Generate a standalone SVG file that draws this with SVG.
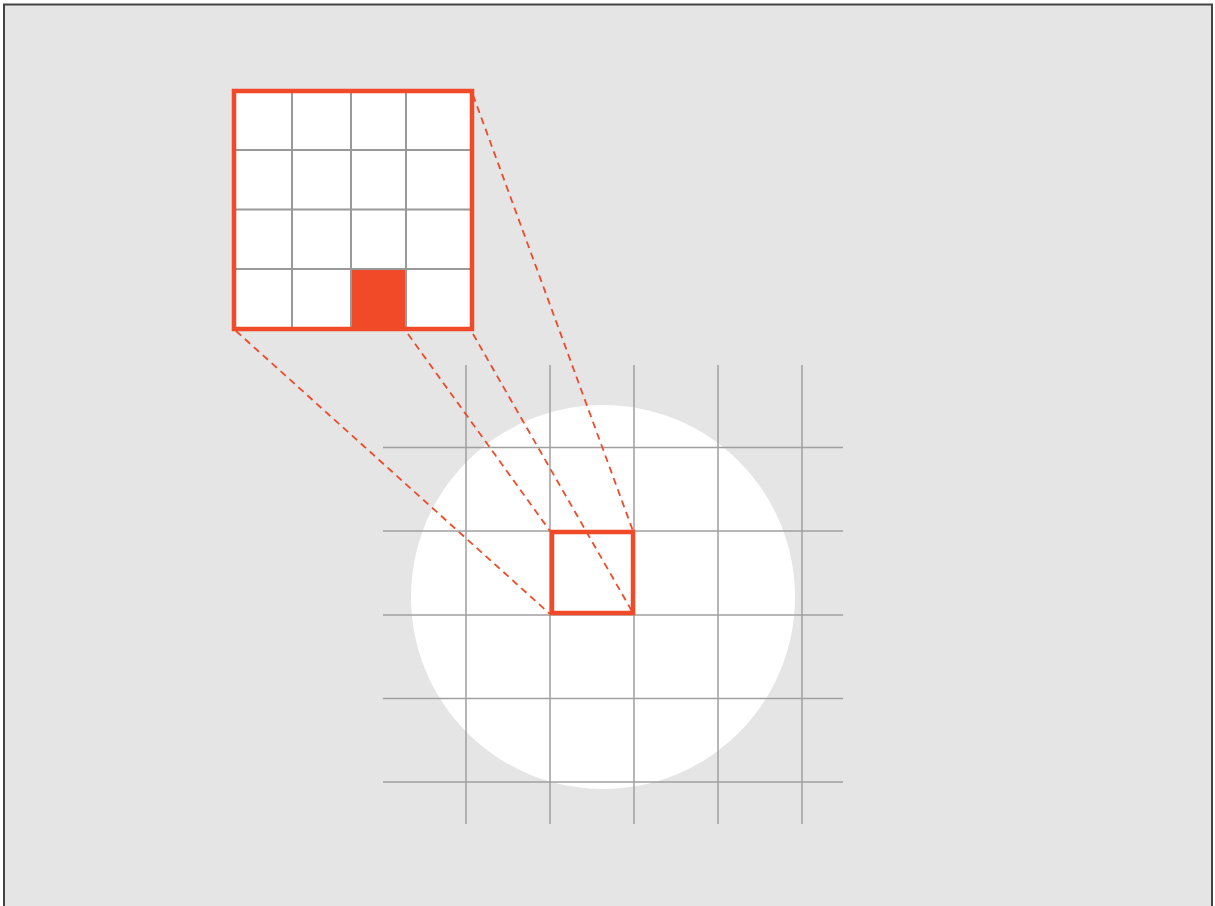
<svg xmlns="http://www.w3.org/2000/svg" width="1215" height="906" viewBox="0 0 1215 906">
<style>
.grid{stroke:#a0a0a0;stroke-width:1.5;fill:none}
.cell{stroke:#999;stroke-width:2;fill:none}
.red{stroke:#f04a29;stroke-width:4.5;fill:none}
.dash{stroke:#f04a29;stroke-width:1.8;stroke-dasharray:7 5;fill:none}
</style>
<rect x="0" y="0" width="1215" height="906" fill="#fff"/>
<rect x="4" y="4.5" width="1208" height="910" fill="#e5e5e5" stroke="#444" stroke-width="2"/>
<g id="circle"><circle cx="603" cy="597" r="192" fill="#fff"/></g>
<g id="grid">
<path class="grid" d="M466 365V824M550 365V824M634 365V824M718 365V824M802 365V824M383 447.5H843M383 531H843M383 615H843M383 698.5H843M383 782H843"/>
</g>
<g id="inset">
<rect x="234" y="91" width="238" height="238" fill="#fff"/>
<rect x="351" y="269" width="55" height="58" fill="#f04a29"/>
<path class="cell" d="M292 91V329M351 91V329M406 91V329M234 150H472M234 209.5H472M234 269H472"/>
<rect class="red" x="234" y="91" width="238" height="238"/>
</g>
<g id="connectors">
<path class="dash" d="M236 331L550 614M408 334L550 531M473 334L633 613M473 95L633 531"/>
</g>
<g id="target"><rect class="red" x="552" y="532" width="81" height="81"/></g>
</svg>
